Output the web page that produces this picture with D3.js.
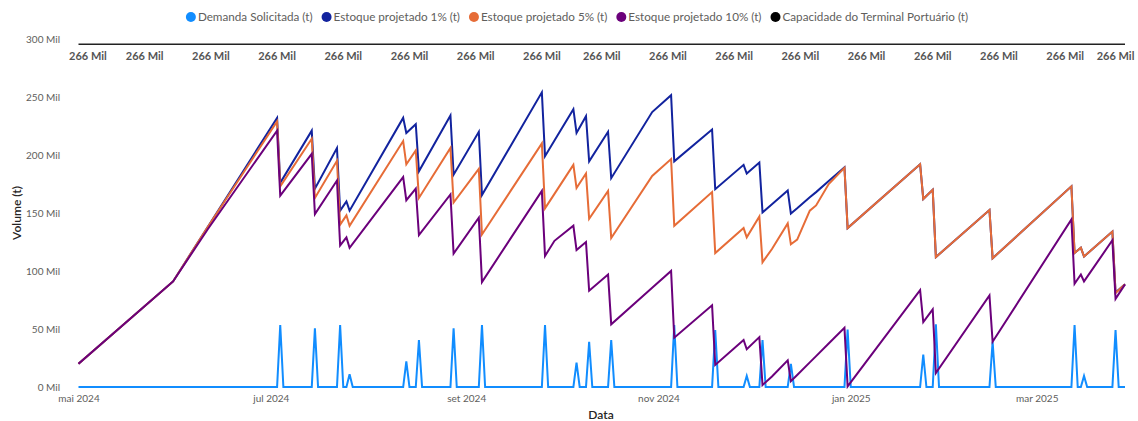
<!DOCTYPE html>
<html>
<head>
<meta charset="utf-8">
<title>Estoque projetado x Demanda</title>
<script src="https://cdn.jsdelivr.net/npm/d3@7"></script>
<style>
body { margin: 0; background: #fff; }
text { font-family: "Segoe UI", Lato, sans-serif; }
</style>
</head>
<body>
<script>
var w = 1138, h = 421;

// vertices of the stock series (shared dates)
var stockDates = ["2024-05-01","2024-05-31","2024-06-11","2024-07-03","2024-07-04","2024-07-14","2024-07-15",
  "2024-07-22","2024-07-23","2024-07-25","2024-07-26","2024-08-12","2024-08-13","2024-08-16","2024-08-17",
  "2024-08-27","2024-08-28","2024-09-05","2024-09-06","2024-09-25","2024-09-26","2024-09-29","2024-10-05",
  "2024-10-06","2024-10-09","2024-10-10","2024-10-16","2024-10-17","2024-10-30","2024-11-05","2024-11-06",
  "2024-11-18","2024-11-19","2024-11-28","2024-11-29","2024-12-03","2024-12-04","2024-12-07","2024-12-12",
  "2024-12-13","2024-12-15","2024-12-19","2024-12-21","2024-12-25","2024-12-30","2024-12-31","2025-01-23",
  "2025-01-24","2025-01-27","2025-01-28","2025-02-14","2025-02-15","2025-03-12","2025-03-13","2025-03-15",
  "2025-03-16","2025-03-25","2025-03-26","2025-03-29"];
var stock1 = [20000,91000,138000,232000,176000,221000,171000,
  206000,152000,160000,152000,232000,219000,226500,186000,
  234000,183000,220000,165500,254000,199000,212500,239500,
  219000,233500,194500,220000,180000,237000,251500,194500,
  222000,170500,191500,184000,193500,150500,157500,169500,
  149500,154000,163500,168000,177500,189300,137000,192000,
  162000,170000,112000,152500,111000,173000,115500,120000,
  112500,134000,81500,88500];
var stock5 = [20000,91000,138000,229000,173000,214000,163000,
  195000,140000,148000,139000,212000,192000,204000,163000,
  206000,159000,188000,131500,210000,154000,166500,191500,
  171500,184000,145000,169000,128500,182000,196500,139000,
  168000,115500,137000,129000,147000,107500,119000,141000,
  123000,127000,152000,156500,175000,189000,137000,192000,
  162000,170000,112000,152500,111000,173000,115500,120000,
  112500,134000,81000,88500];
var stock10 = [20000,91000,136000,221000,165000,201000,149000,
  178000,122000,129000,120000,181000,161000,171000,131000,
  166000,115000,146000,90500,169000,113000,126000,139000,
  118000,125000,83000,97000,54000,85500,100000,42500,
  70500,19000,40500,32500,43000,1700,9000,23000,
  5000,10400,21200,26600,37500,51000,500,83500,
  56000,67000,12000,79000,39000,144500,89000,97000,
  91000,126500,76000,88500];

// daily demand, only the days around each request
var demandDates = ["2024-05-01",
  "2024-07-03","2024-07-04","2024-07-05","2024-07-14","2024-07-15","2024-07-16",
  "2024-07-22","2024-07-23","2024-07-24","2024-07-25","2024-07-26","2024-07-27",
  "2024-08-12","2024-08-13","2024-08-14","2024-08-16","2024-08-17","2024-08-18",
  "2024-08-27","2024-08-28","2024-08-29","2024-09-05","2024-09-06","2024-09-07",
  "2024-09-25","2024-09-26","2024-09-27","2024-10-05","2024-10-06","2024-10-07",
  "2024-10-09","2024-10-10","2024-10-11","2024-10-16","2024-10-17","2024-10-18",
  "2024-11-05","2024-11-06","2024-11-07","2024-11-18","2024-11-19","2024-11-20",
  "2024-11-28","2024-11-29","2024-11-30","2024-12-03","2024-12-04","2024-12-05",
  "2024-12-12","2024-12-13","2024-12-14","2024-12-30","2024-12-31","2025-01-01",
  "2025-01-23","2025-01-24","2025-01-25","2025-01-27","2025-01-28","2025-01-29",
  "2025-02-14","2025-02-15","2025-02-16","2025-03-12","2025-03-13","2025-03-14",
  "2025-03-15","2025-03-16","2025-03-17","2025-03-25","2025-03-26","2025-03-27",
  "2025-03-29"];
var demandValues = [0,
  0,53500,0, 0,50500,0,
  0,53500,0, 0,11000,0,
  0,22000,0, 0,40500,0,
  0,50500,0, 0,53500,0,
  0,53500,0, 0,21000,0,
  0,39000,0, 0,40500,0,
  0,53500,0, 0,49000,0,
  0,9500,0, 0,40500,0,
  0,20000,0, 0,49500,0,
  0,28000,0, 0,54000,0,
  0,39000,0, 0,53500,0,
  0,9500,0, 0,49000,0,
  0];

var capacity = 266000;
var capacityDates = ["2024-05-01","2025-03-29"];
var capLabelDates = ["2024-05-04","2024-05-22","2024-06-12","2024-07-03","2024-07-24","2024-08-14",
  "2024-09-04","2024-09-25","2024-10-14","2024-11-04","2024-11-25","2024-12-16","2025-01-06",
  "2025-01-27","2025-02-17","2025-03-10","2025-03-26"];

var seriesNames = ["Demanda Solicitada (t)","Estoque projetado 1% (t)","Estoque projetado 5% (t)",
  "Estoque projetado 10% (t)","Capacidade do Terminal Portuário (t)"];
var seriesColors = ["#118DFF","#12239E","#E66C37","#6B007B","#000000"];

var yTicks = [0,50000,100000,150000,200000,250000,300000];
var xTickDates = ["2024-05-01","2024-07-01","2024-09-01","2024-11-01","2025-01-01","2025-03-01"];
var xTickLabels = ["mai 2024","jul 2024","set 2024","nov 2024","jan 2025","mar 2025"];

var parse = d3.timeParse("%Y-%m-%d");

var xScale = d3.scaleTime()
  .domain([parse("2024-05-01"), parse("2025-03-29")])
  .range([78.5, 1125]);
var yScale = d3.scaleLinear().domain([0, 300000]).range([387, 39]);
// capacity sits on its own hidden axis
var yCap = d3.scaleLinear().domain([0, 270000]).range([387, 39]);

var svg = d3.select("body").append("svg")
  .attr("width", w).attr("height", h);

// y axis
var yAxis = d3.axisLeft(yScale).tickValues(yTicks)
  .tickFormat(function(d){ return (d/1000) + " Mil"; })
  .tickSize(0).tickPadding(0);
var gy = svg.append("g").attr("transform", "translate(60,0)").call(yAxis);
gy.select(".domain").remove();
gy.selectAll("text").attr("fill", "#605E5C").style("font-size", "10px");

// x axis
var xAxis = d3.axisBottom(xScale).tickValues(xTickDates.map(parse))
  .tickFormat(function(d, i){ return xTickLabels[i]; })
  .tickSize(0).tickPadding(0);
var gx = svg.append("g").attr("transform", "translate(0,395)").call(xAxis);
gx.select(".domain").remove();
gx.selectAll("text").attr("fill", "#605E5C").style("font-size", "10px");

// axis titles
svg.append("text").attr("transform", "translate(21,213) rotate(-90)")
  .attr("text-anchor", "middle").attr("fill", "#252423")
  .style("font-size", "12px").style("font-weight", "600").text("Volume (t)");
svg.append("text").attr("x", 601).attr("y", 419)
  .attr("text-anchor", "middle").attr("fill", "#252423")
  .style("font-size", "12px").style("font-weight", "600").text("Data");

var line = d3.line()
  .x(function(d){ return xScale(d.date); })
  .y(function(d){ return yScale(d.value); });

function pairs(dates, vals) {
  return dates.map(function(d, i){ return {date: parse(d), value: vals[i]}; });
}

var lines = [
  pairs(demandDates, demandValues),
  pairs(stockDates, stock1),
  pairs(stockDates, stock5),
  pairs(stockDates, stock10)
];

svg.selectAll(".serie").data(lines).enter().append("path")
  .attr("class", "serie")
  .attr("d", line)
  .attr("fill", "none")
  .attr("stroke", function(d, i){ return seriesColors[i]; })
  .attr("stroke-width", 2)
  .attr("stroke-linejoin", "miter");

// capacity line + labels
svg.append("line")
  .attr("x1", xScale(parse(capacityDates[0]))).attr("x2", xScale(parse(capacityDates[1])))
  .attr("y1", yCap(capacity)).attr("y2", yCap(capacity))
  .attr("stroke", "#222").attr("stroke-width", 1.5);

svg.selectAll(".caplabel").data(capLabelDates).enter().append("text")
  .attr("class", "caplabel")
  .attr("x", function(d){ return xScale(parse(d)); })
  .attr("y", yCap(capacity) + 16)
  .attr("text-anchor", "middle")
  .attr("fill", "#555")
  .style("font-size", "11px").style("font-weight", "bold")
  .text(Math.round(capacity/1000) + " Mil");

// legend
var legend = svg.append("g");
var lx = 0;
seriesNames.forEach(function(name, i){
  var g = legend.append("g").attr("transform", "translate(" + lx + ",0)");
  g.append("circle").attr("cx", 5).attr("cy", 17).attr("r", 5).attr("fill", seriesColors[i]);
  var t = g.append("text").attr("x", 12).attr("y", 21).attr("fill", "#605E5C")
    .style("font-size", "11.7px").text(name);
  lx += 12 + t.node().getComputedTextLength() + 9;
});
legend.attr("transform", "translate(" + (577 - (lx - 9) / 2) + ",0)");
</script>
</body>
</html>
